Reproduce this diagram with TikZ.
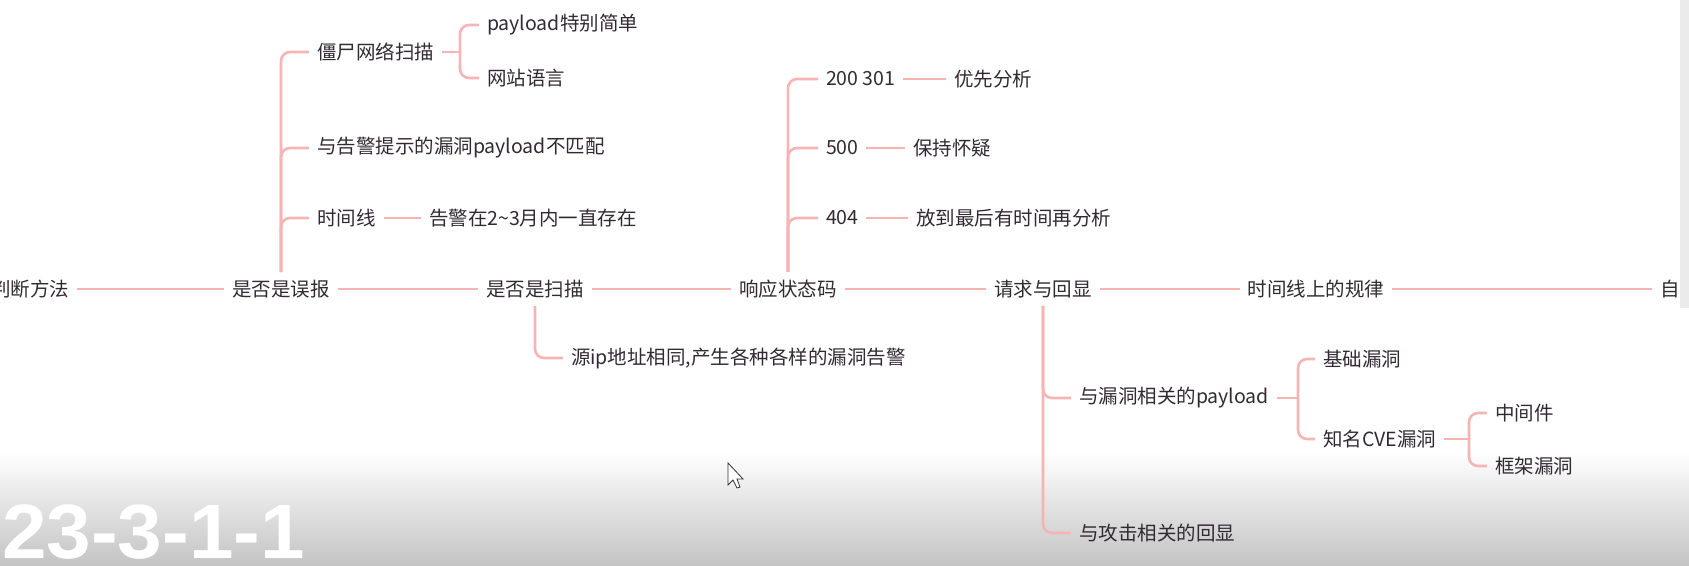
\documentclass[tikz,border=0pt]{standalone}
\usepackage{fontspec}
\newfontfamily\cjk{Noto Sans CJK SC}
\newfontfamily\capfont{Liberation Sans}
\definecolor{branch}{RGB}{246,180,180}
\definecolor{ink}{RGB}{50,42,50}
\definecolor{fade}{RGB}{196,196,196}
\definecolor{strip}{RGB}{235,235,235}

\begin{document}
\begin{tikzpicture}[x=1pt, y=-1pt,
  topic/.style={
    font=\cjk\fontsize{19.5}{22}\selectfont, text=ink,
    inner sep=0pt,
    outer sep=8pt  % gap between text and its connectors
  },
  leaf/.style={topic, anchor=west},
  link/.style={draw=branch, line width=2.6pt},
  fork/.style={link, rounded corners=9pt}
]
\useasboundingbox (0,0) rectangle (1689,565);

% --- Background ---
\shade[top color=white, bottom color=fade] (0,452) rectangle (1689,565);
\fill[strip] (1680,0) rectangle (1689,308);

% --- Main row ---
\node[topic, anchor=east] (judge) at (77,289) {判断方法};
\node[topic] (wubao) at (281,289) {是否是误报};
\node[topic] (saomiao) at (535,289) {是否是扫描};
\node[topic] (xiangying) at (788,289) {响应状态码};
\node[topic] (qingqiu) at (1043,289) {请求与回显};
\node[topic] (guilv) at (1316,289) {时间线上的规律};
\node[leaf] (zi) at (1652,289) {自};

\draw[link] (judge) -- (wubao) -- (saomiao) -- (xiangying) -- (qingqiu) -- (guilv) -- (zi);

% --- False positive ---
\node[leaf] (jiangshi) at (309,52) {僵尸网络扫描};
\node[leaf] (pipei) at (309,148) {与告警提示的漏洞payload不匹配};
\node[leaf] (shijian) at (309,218) {时间线};
\node[leaf] (cunzai) at (421,218) {告警在2\textasciitilde3月内一直存在};

\foreach \b in {jiangshi,pipei,shijian}
  \draw[fork] (wubao.north) |- (\b.west);
\draw[link] (shijian) -- (cunzai);

\coordinate (jsfork) at (460,52);
\node[leaf] (jiandan) at (479,25) {payload特别简单};
\node[leaf] (yuyan) at (479,78) {网站语言};
\draw[link] (jiangshi.east) -- (jsfork);
\foreach \b in {jiandan,yuyan}
  \draw[fork] (jsfork) |- (\b.west);

% --- Scan ---
\node[leaf] (ip) at (563,358) {源ip地址相同,产生各种各样的漏洞告警};
\draw[fork] (saomiao.south) |- (ip.west);

% --- Status codes ---
\foreach \code/\ax/\act/\y [count=\i] in {200 301/946/优先分析/79, 500/905/保持怀疑/148, 404/908/放到最后有时间再分析/218} {
  \node[leaf] (code\i) at (818,\y) {\code};
  \node[leaf] (act\i) at (\ax,\y) {\act};
  \draw[fork] (xiangying.north) |- (code\i.west);
  \draw[link] (code\i) -- (act\i);
}

% --- Request and echo ---
\node[leaf] (payload) at (1071,398) {与漏洞相关的payload};
\node[leaf] (huixian) at (1071,533) {与攻击相关的回显};
\foreach \b in {payload,huixian}
  \draw[fork] (qingqiu.south) |- (\b.west);

\coordinate (plfork) at (1298,398);
\node[leaf] (jichu) at (1315,359) {基础漏洞};
\node[leaf] (cve) at (1315,439) {知名CVE漏洞};
\draw[link] (payload.east) -- (plfork);
\foreach \b in {jichu,cve}
  \draw[fork] (plfork) |- (\b.west);

\coordinate (cvefork) at (1469,439);
\node[leaf] (zhongjian) at (1487,413) {中间件};
\node[leaf] (kuangjia) at (1487,466) {框架漏洞};
\draw[link] (cve.east) -- (cvefork);
\foreach \b in {zhongjian,kuangjia}
  \draw[fork] (cvefork) |- (\b.west);

% --- Overlay ---
\draw[fill=white, draw=black!80, line width=0.8pt]
  (728,463) -- (728,485) -- (733,480) -- (737,488) -- (740,487) -- (737,479) -- (743,479) -- cycle;
\node[anchor=base west, inner sep=0pt, text=white,
  font=\capfont\bfseries\fontsize{77}{80}\selectfont] (stamp) at (2,558) {\scalebox{1.04}[1]{23-3-1-1}};

\end{tikzpicture}
\end{document}
